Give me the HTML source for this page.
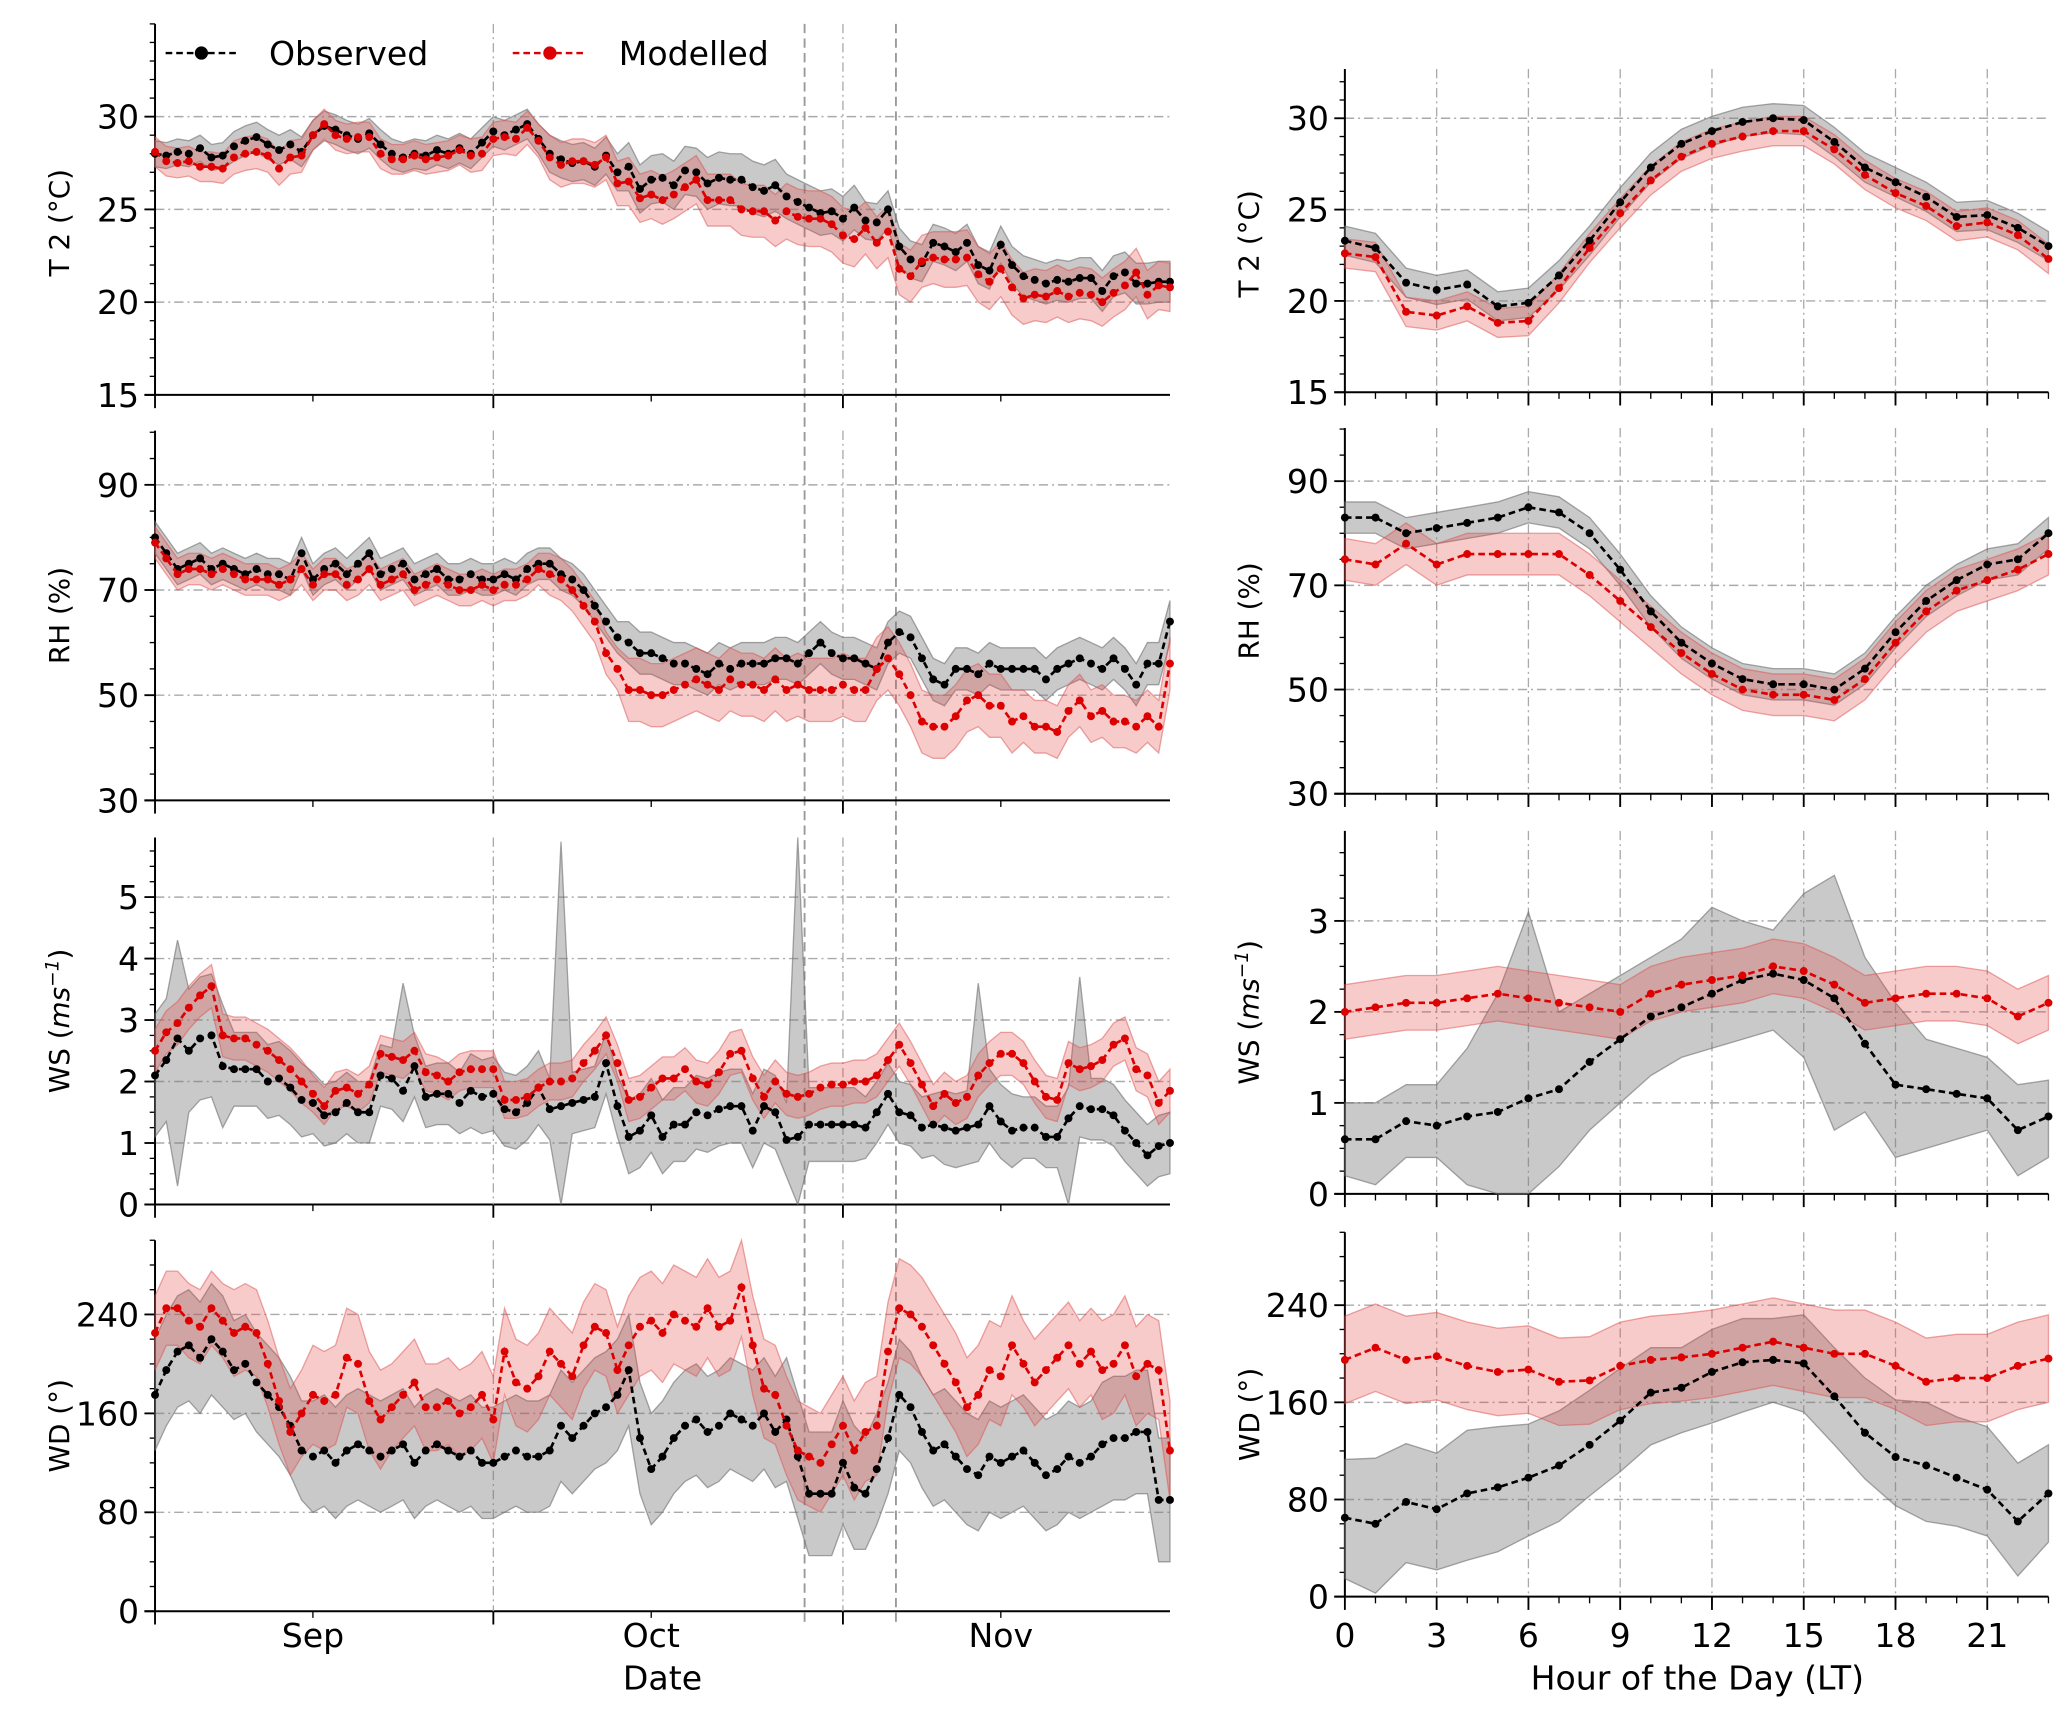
<!DOCTYPE html>
<html><head><meta charset="utf-8">
<style>
html,body{margin:0;padding:0;background:#fff;}
svg{display:block;font-family:"DejaVu Sans","Liberation Sans",sans-serif;}
</style></head>
<body>
<svg id="chart" width="2067" height="1712" viewBox="0 0 1560 1292" xmlns="http://www.w3.org/2000/svg">
<g id="bg"></g>
<g id="legend">
  <line x1="125" y1="40" x2="180" y2="40" stroke="#000" stroke-width="1.8" stroke-dasharray="5,3"/>
  <circle cx="152" cy="40" r="5" fill="#000"/>
  <text x="203" y="49" font-size="25">Observed</text>
  <line x1="387" y1="40" x2="443" y2="40" stroke="#d00" stroke-width="1.8" stroke-dasharray="5,3"/>
  <circle cx="415" cy="40" r="5" fill="#d00"/>
  <text x="467" y="49" font-size="25">Modelled</text>
</g>
</svg>
<script>
// ---- daily data, Sep 1 (index 0) to Nov 30 (index 90) ----
const t2Obs=[28,27.9,28.1,28.0,28.3,27.8,27.9,28.4,28.7,28.9,28.5,28.2,28.5,28.1,29.0,29.5,29.3,29.0,28.8,29.1,28.5,28.0,27.8,28.0,27.9,28.2,28.0,28.3,28.0,28.6,29.2,29.0,29.3,29.6,28.8,28.0,27.7,27.5,27.6,27.3,27.9,27.0,27.3,26.1,26.6,26.7,26.3,27.1,27.0,26.4,26.7,26.6,26.6,26.2,26.0,26.3,25.7,25.4,25.1,24.8,24.9,24.5,25.1,24.4,24.3,25.0,23.0,22.3,22.1,23.2,23.0,22.7,23.2,22.0,21.7,23.1,22.0,21.4,21.2,21.0,21.2,21.1,21.3,21.3,20.6,21.4,21.6,21.0,21.0,21.1,21.1];
const t2Mod=[28.1,27.6,27.5,27.6,27.3,27.3,27.2,27.8,28.0,28.1,27.9,27.2,27.8,27.9,29.0,29.6,29.0,28.8,28.9,28.9,28.0,27.7,27.7,27.9,27.7,27.8,27.9,28.2,27.9,28.0,28.8,28.9,28.8,29.4,28.7,27.8,27.4,27.6,27.6,27.4,27.8,26.4,26.5,25.6,25.8,25.5,25.8,26.2,26.6,25.5,25.5,25.5,25.0,24.9,24.9,24.4,24.9,24.6,24.5,24.5,24.2,23.6,23.4,24.0,23.2,23.8,21.8,21.4,22.2,22.4,22.3,22.3,22.4,21.5,21.1,21.8,20.8,20.2,20.4,20.3,20.6,20.3,20.5,20.4,20.0,20.5,20.9,21.6,20.4,20.9,20.8];
const rhObs=[80,77,74,75,76,74,75,74,73,74,73,73,72,77,72,74,75,73,75,77,73,74,75,72,73,74,72,72,73,72,72,73,72,74,75,75,73,72,70,67,64,61,60,58,58,57,56,56,55,54,56,55,56,56,56,57,57,56,58,60,58,57,57,56,55,60,62,61,57,53,52,55,55,54,56,55,55,55,55,53,55,56,57,56,55,57,55,52,56,56,64];
const rhMod=[79,76,73,74,74,73,74,73,72,72,72,71,72,74,71,73,73,71,72,74,71,72,73,70,71,72,71,70,70,71,70,71,71,72,74,73,72,70,67,64,58,55,51,51,50,50,51,52,53,52,51,53,52,52,51,53,51,52,51,51,51,52,51,51,55,57,54,50,45,44,44,46,49,50,48,48,45,46,44,44,43,47,49,46,47,45,45,44,46,44,56];
const wsObs=[2.1,2.35,2.7,2.5,2.7,2.75,2.25,2.2,2.2,2.2,2.0,2.05,1.9,1.7,1.65,1.45,1.5,1.65,1.5,1.5,2.1,2.05,1.85,2.25,1.75,1.8,1.8,1.65,1.85,1.75,1.8,1.55,1.5,1.65,1.9,1.55,1.6,1.65,1.7,1.75,2.3,1.6,1.1,1.2,1.45,1.1,1.3,1.3,1.5,1.45,1.55,1.6,1.6,1.2,1.6,1.5,1.05,1.1,1.3,1.3,1.3,1.3,1.3,1.25,1.5,1.8,1.5,1.45,1.25,1.3,1.25,1.2,1.25,1.3,1.6,1.35,1.2,1.25,1.25,1.1,1.1,1.4,1.6,1.55,1.55,1.45,1.2,1.0,0.8,0.95,1.0];
const wsMod=[2.5,2.8,2.95,3.2,3.4,3.55,2.75,2.7,2.7,2.6,2.5,2.35,2.2,2.0,1.8,1.6,1.85,1.9,1.8,1.95,2.45,2.4,2.35,2.5,2.15,2.1,2.0,2.15,2.2,2.2,2.2,1.7,1.7,1.75,1.9,2.0,2.0,2.05,2.3,2.5,2.75,2.3,1.7,1.75,1.9,2.05,2.05,2.2,2.0,1.95,2.15,2.45,2.5,2.05,1.75,2.0,1.8,1.75,1.8,1.9,1.95,1.95,2.0,2.0,2.1,2.35,2.6,2.3,1.95,1.6,1.8,1.65,1.75,2.1,2.3,2.45,2.45,2.3,2.0,1.75,1.7,2.3,2.2,2.25,2.35,2.6,2.7,2.2,2.1,1.65,1.85];
const wdObs=[175,195,210,215,205,220,210,195,200,185,175,165,150,130,125,130,120,130,135,130,125,130,135,120,130,135,130,125,130,120,120,125,130,125,125,130,150,140,150,160,165,175,195,140,115,125,140,150,155,145,150,160,155,150,160,145,155,125,95,95,95,120,100,95,115,140,175,165,145,130,135,125,115,110,125,120,125,130,120,110,115,125,120,125,135,140,140,145,145,90,90];
const wdMod=[225,245,245,235,230,245,235,225,230,225,200,170,145,160,175,170,175,205,200,170,155,165,175,185,165,165,170,160,165,175,155,210,185,180,190,210,200,190,215,230,225,195,215,230,235,225,240,235,230,245,230,235,262,215,180,175,150,130,125,120,135,150,130,145,150,210,245,240,230,215,200,185,165,175,195,190,215,200,185,195,205,215,200,210,195,200,215,190,200,195,130];
// weekly band half-widths (week index = floor(day/7))
const t2ObsBand=[0.7,0.8,0.8,0.8,0.8,1.0,1.3,1.4,1.2,1.0,1.0,1.1,1.1];
const t2ModBand=[0.8,0.9,0.8,0.8,0.9,1.2,1.3,1.4,1.5,1.4,1.5,1.4,1.3];
const rhObsBand=[3,3,3,3,3,3,4,4,4,4,4,4,4];
const rhModBand=[3,3,3,3,3,4,6,6,6,6,6,5,5];
const wsObsBand=[1.0,0.6,0.5,0.5,0.6,0.5,0.6,0.6,0.6,0.5,0.6,0.5,0.5];
const wsModBand=[0.35,0.35,0.3,0.3,0.3,0.3,0.35,0.35,0.35,0.35,0.35,0.35,0.35];
const wsObsSpikeDays=[2,22,36,57,73,82];
const wsObsSpikeTops=[4.3,3.6,5.9,6.0,3.6,3.7];
const wsObsDipDays=[2,36,57,81];
const wsObsDipLows=[0.3,0,0,0];
const wdObsBand=[45,40,45,45,45,45,45,45,50,45,45,45,50];
const wdModBand=[30,35,40,35,35,35,40,40,40,40,40,35,40];
// ---- hourly data ----
const hours=[0,1,2,3,4,5,6,7,8,9,10,11,12,13,14,15,16,17,18,19,20,21,22,23];
const hT2Obs=[23.3,22.9,21.0,20.6,20.9,19.7,19.9,21.4,23.3,25.4,27.3,28.6,29.3,29.8,30.0,29.9,28.7,27.3,26.5,25.7,24.6,24.7,24.0,23.0];
const hT2Mod=[22.6,22.4,19.4,19.2,19.7,18.8,18.9,20.7,22.9,24.8,26.6,27.9,28.6,29.0,29.3,29.3,28.3,26.9,25.9,25.2,24.1,24.3,23.6,22.3];
const hT2ObsBand=0.8, hT2ModBand=0.8;
const hRhObs=[83,83,80,81,82,83,85,84,80,73,65,59,55,52,51,51,50,54,61,67,71,74,75,80];
const hRhMod=[75,74,78,74,76,76,76,76,72,67,62,57,53,50,49,49,48,52,59,65,69,71,73,76];
const hRhObsBand=3, hRhModBand=4;
const hWsObs=[0.6,0.6,0.8,0.75,0.85,0.9,1.05,1.15,1.45,1.7,1.95,2.05,2.2,2.35,2.42,2.35,2.15,1.65,1.2,1.15,1.1,1.05,0.7,0.85];
const hWsMod=[2.0,2.05,2.1,2.1,2.15,2.2,2.15,2.1,2.05,2.0,2.2,2.3,2.35,2.4,2.5,2.45,2.3,2.1,2.15,2.2,2.2,2.15,1.95,2.1];
const hWsObsHi=[1.0,1.0,1.2,1.2,1.6,2.2,3.1,2.0,2.2,2.4,2.6,2.8,3.15,3.0,2.9,3.3,3.5,2.6,2.1,1.7,1.6,1.5,1.2,1.25];
const hWsObsLo=[0.2,0.1,0.4,0.4,0.1,0,0,0.3,0.7,1.0,1.3,1.5,1.6,1.7,1.8,1.5,0.7,0.9,0.4,0.5,0.6,0.7,0.2,0.4];
const hWsModBand=0.3;
const hWdObs=[65,60,78,72,85,90,98,108,125,145,168,172,185,193,195,192,165,135,115,108,98,88,62,85];
const hWdMod=[195,205,195,198,190,185,187,177,178,190,195,197,200,205,210,205,200,200,190,177,180,180,190,196];
const hWdObsHi=[113,114,126,118,137,140,142,153,170,188,205,205,220,229,229,232,205,180,162,160,148,140,110,125];
const hWdObsLo=[15,3,28,22,30,37,50,62,83,103,125,135,143,152,160,152,125,97,75,62,58,50,17,45];
const hWdModBand=36;
// tick labels
const monthLabels=['Sep','Oct','Nov'];
const hourTicks=[0,3,6,9,12,15,18,21];

const NS='http://www.w3.org/2000/svg';
const svg=document.getElementById('chart');
const bg=document.getElementById('bg');

const GRAY='#aaa';
const LX0=117, LX1=883, DAYPX=(LX1-LX0)/90;
function lx(d){return LX0+d*DAYPX;}
const RX0=1015, HPX=(1546-1015)/23;
function rx(h){return RX0+h*HPX;}

const leftRows=[
 {name:'t2',top:18,bot:298,vmin:15,vmax:35,ticks:[15,20,25,30],minor:1,label:'T 2 (°C)',obs:t2Obs,mod:t2Mod,ob:t2ObsBand,mb:t2ModBand},
 {name:'rh',top:325,bot:604,vmin:30,vmax:100.3,ticks:[30,50,70,90],minor:5,label:'RH (%)',obs:rhObs,mod:rhMod,ob:rhObsBand,mb:rhModBand},
 {name:'ws',top:632,bot:909,vmin:0,vmax:5.97,ticks:[0,1,2,3,4,5],minor:0.25,label:'WS',obs:wsObs,mod:wsMod,ob:wsObsBand,mb:wsModBand},
 {name:'wd',top:936,bot:1216,vmin:0,vmax:300,ticks:[0,80,160,240],minor:20,label:'WD (°)',obs:wdObs,mod:wdMod,ob:wdObsBand,mb:wdModBand}
];
const rightRows=[
 {name:'t2',top:52,bot:296,vmin:15,vmax:32.7,ticks:[15,20,25,30],minor:1,label:'T 2 (°C)'},
 {name:'rh',top:323,bot:599,vmin:30,vmax:100.2,ticks:[30,50,70,90],minor:5,label:'RH (%)'},
 {name:'ws',top:627,bot:901,vmin:0,vmax:3.99,ticks:[0,1,2,3],minor:0.25,label:'WS'},
 {name:'wd',top:930,bot:1205,vmin:0,vmax:300,ticks:[0,80,160,240],minor:20,label:'WD (°)'}
];
function yf(r){return v=>r.bot-(v-r.vmin)/(r.vmax-r.vmin)*(r.bot-r.top);}

function band(xs,hi,lo,fill,stroke,name,g,yy){
  let d='M'+xs.map((x,i)=>x.toFixed(1)+','+yy(hi[i]).toFixed(1)).join('L');
  for(let i=xs.length-1;i>=0;i--)d+='L'+xs[i].toFixed(1)+','+yy(lo[i]).toFixed(1);
  const p=document.createElementNS(NS,'path');
  p.setAttribute('d',d+'Z');p.setAttribute('fill',fill);p.setAttribute('stroke',stroke);p.setAttribute('stroke-width','1');
  
  
  g.appendChild(p);
}
function series(xs,vals,color,name,g,yy){
  const pl=document.createElementNS(NS,'polyline');
  pl.setAttribute('points',xs.map((x,i)=>x.toFixed(1)+','+yy(vals[i]).toFixed(1)).join(' '));
  pl.setAttribute('fill','none');pl.setAttribute('stroke',color);pl.setAttribute('stroke-width','2');pl.setAttribute('stroke-dasharray','5,3');
  
  
  g.appendChild(pl);
  vals.forEach((v,i)=>{const c=document.createElementNS(NS,'circle');
    c.setAttribute('cx',xs[i].toFixed(1));c.setAttribute('cy',yy(v).toFixed(1));c.setAttribute('r','3');c.setAttribute('fill',color);
    
    
    g.appendChild(c);});
}
function line(g,x1,y1,x2,y2,stroke,w,dash){const l=document.createElementNS(NS,'line');
  l.setAttribute('x1',x1);l.setAttribute('y1',y1);l.setAttribute('x2',x2);l.setAttribute('y2',y2);
  l.setAttribute('stroke',stroke);l.setAttribute('stroke-width',w);if(dash)l.setAttribute('stroke-dasharray',dash);g.appendChild(l);return l;}
function text(g,x,y,s,size,anchor,rot){const t=document.createElementNS(NS,'text');
  t.setAttribute('x',x);t.setAttribute('y',y);t.setAttribute('font-size',size);t.setAttribute('text-anchor',anchor||'middle');
  if(rot)t.setAttribute('transform','rotate(-90 '+x+' '+y+')');t.textContent=s;g.appendChild(t);return t;}
function ylabel(g,x,y,r){
  if(r.name==='ws'){const t=text(g,x,y,'WS (',21,'middle',true);
    const a=document.createElementNS(NS,'tspan');a.setAttribute('font-style','italic');a.textContent='ms';t.appendChild(a);
    const b=document.createElementNS(NS,'tspan');b.setAttribute('font-style','italic');b.setAttribute('font-size','14');b.setAttribute('dy','-8');b.textContent='−1';t.appendChild(b);
    const c=document.createElementNS(NS,'tspan');c.setAttribute('dy','8');c.textContent=')';t.appendChild(c);return t;}
  return text(g,x,y,r.label,21,'middle',true);
}
function yaxis(g,r,x0,x1){
  const yy=yf(r);
  r.ticks.forEach(v=>{ if(v!==r.vmin) line(g,x0,yy(v),x1,yy(v),GRAY,1.1,'7,3,1.5,3');
    line(g,x0-8,yy(v),x0,yy(v),'#000',1.4);
    const t=text(g,x0-12,yy(v)+9,String(v),25,'end');
    
    
  });
  for(let v=r.vmin;v<=r.vmax+1e-9;v+=r.minor){line(g,x0-4,yy(v),x0,yy(v),'#000',1);}
  const ax=line(g,x0,r.top,x0,r.bot,'#000',1.5);
  
  
  const bx=line(g,x0-8,r.bot,x1,r.bot,'#000',1.5);
  
  
}
const wk=d=>Math.floor(d/7);
const dayX=t2Obs.map((_,i)=>lx(i));
leftRows.forEach((r,ri)=>{
  const g=document.createElementNS(NS,'g');
  
  
  svg.insertBefore(g,document.getElementById('legend'));
  const yy=yf(r);
  yaxis(g,r,LX0,LX1);
  [lx(30),lx(61)].forEach(x=>line(g,x,r.top,x,r.bot,GRAY,1,'7,3,1.5,3'));
  [0,30,61].forEach(d=>line(g,lx(d),r.bot,lx(d),r.bot+10,'#000',1.4));
  [14,44,75].forEach(d=>line(g,lx(d),r.bot,lx(d),r.bot+5,'#000',1));
  let ohi=r.obs.map((v,i)=>v+r.ob[wk(i)]), olo=r.obs.map((v,i)=>v-r.ob[wk(i)]);
  if(r.name==='ws'){
    wsObsSpikeDays.forEach((d,k)=>{ohi[d]=Math.max(ohi[d],wsObsSpikeTops[k]);});
    wsObsDipDays.forEach((d,k)=>{olo[d]=Math.min(olo[d],wsObsDipLows[k]);});
  }
  olo=olo.map(v=>Math.max(v,r.vmin)); ohi=ohi.map(v=>Math.min(v,r.vmax));
  const mhi=r.mod.map((v,i)=>Math.min(v+r.mb[wk(i)],r.vmax)), mlo=r.mod.map((v,i)=>Math.max(v-r.mb[wk(i)],r.vmin));
  band(dayX,ohi,olo,'rgba(120,120,120,0.4)','rgba(110,110,110,0.6)','observed-band-'+r.name,g,yy);
  band(dayX,mhi,mlo,'rgba(230,70,70,0.28)','rgba(220,80,80,0.5)','modelled-band-'+r.name,g,yy);
  series(dayX,r.obs,'#000','observed-'+r.name,g,yy);
  series(dayX,r.mod,'#d00','modelled-'+r.name,g,yy);
  ylabel(g,52,(r.top+r.bot)/2+ (r.name==='t2'?10:0),r);
});
[lx(57.6),lx(65.7)].forEach(x=>{const l=line(bg,x,18,x,1226,'#999',1.4,'7,4');
  
  });
const la=document.createElementNS(NS,'g');svg.appendChild(la);
monthLabels.forEach((m,i)=>{const t=text(la,[lx(14),lx(44),lx(75)][i],1243,m,25);
  
  });
const dl=text(la,500,1275,'Date',25);



const rData={
 t2:{obs:hT2Obs,mod:hT2Mod,ohi:hT2Obs.map(v=>v+hT2ObsBand),olo:hT2Obs.map(v=>v-hT2ObsBand),mhi:hT2Mod.map(v=>v+hT2ModBand),mlo:hT2Mod.map(v=>v-hT2ModBand)},
 rh:{obs:hRhObs,mod:hRhMod,ohi:hRhObs.map(v=>v+hRhObsBand),olo:hRhObs.map(v=>v-hRhObsBand),mhi:hRhMod.map(v=>v+hRhModBand),mlo:hRhMod.map(v=>v-hRhModBand)},
 ws:{obs:hWsObs,mod:hWsMod,ohi:hWsObsHi,olo:hWsObsLo,mhi:hWsMod.map(v=>v+hWsModBand),mlo:hWsMod.map(v=>v-hWsModBand)},
 wd:{obs:hWdObs,mod:hWdMod,ohi:hWdObsHi,olo:hWdObsLo,mhi:hWdMod.map(v=>v+hWdModBand),mlo:hWdMod.map(v=>v-hWdModBand)}
};
const hX=hours.map(rx);
rightRows.forEach(r=>{
  const g=document.createElementNS(NS,'g');
  
  
  svg.insertBefore(g,document.getElementById('legend'));
  const yy=yf(r), D=rData[r.name];
  yaxis(g,r,RX0,1546);
  hourTicks.forEach(h=>{ if(h>0) line(g,rx(h),r.top,rx(h),r.bot,GRAY,1,'7,3,1.5,3'); line(g,rx(h),r.bot,rx(h),r.bot+10,'#000',1.4);});
  hours.forEach(h=>line(g,rx(h),r.bot,rx(h),r.bot+5,'#000',1));
  band(hX,D.ohi,D.olo,'rgba(120,120,120,0.4)','rgba(110,110,110,0.6)','hourly-observed-band-'+r.name,g,yy);
  band(hX,D.mhi,D.mlo,'rgba(230,70,70,0.28)','rgba(220,80,80,0.5)','hourly-modelled-band-'+r.name,g,yy);
  series(hX,D.obs,'#000','hourly-observed-'+r.name,g,yy);
  series(hX,D.mod,'#d00','hourly-modelled-'+r.name,g,yy);
  ylabel(g,950,(r.top+r.bot)/2+(r.name==='t2'?10:0),r);
});
hourTicks.forEach(h=>{const t=text(la,rx(h),1243,String(h),25);
  
  });
const hl=text(la,1281,1275,'Hour of the Day (LT)',25);


</script>
</body></html>
